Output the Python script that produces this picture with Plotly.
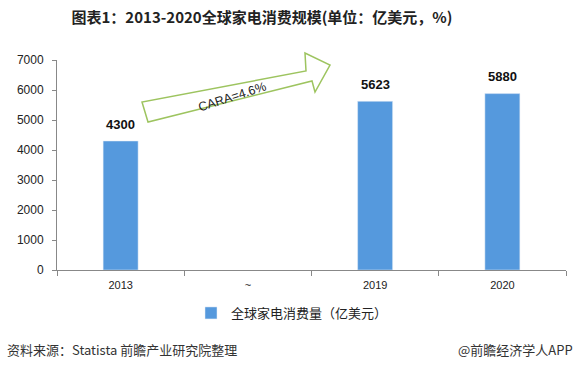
import plotly.graph_objects as go

categories = ["2013", "~", "2019", "2020"]
values = [4300, None, 5623, 5880]
y_ticks = [0, 1000, 2000, 3000, 4000, 5000, 6000, 7000]
series_name = "全球家电消费量（亿美元）"
title_text = "图表1：2013-2020全球家电消费规模(单位：亿美元，%)"
cagr_text = "CARA=4.6%"
source_text = "资料来源：Statista 前瞻产业研究院整理"
brand_text = "@前瞻经济学人APP"

W, H = 577, 370
L, R, T, B = 57, 11, 60, 100
PW, PH = W - L - R, H - T - B

def px(x):
    return (x - L) / PW

def py(y):
    return (H - B - y) / PH

BAR = "#5599DD"
CJK = "Noto Sans CJK SC"

fig = go.Figure()
fig.add_trace(go.Bar(
    x=categories, y=values, name=series_name, marker_color=BAR,
    width=0.275, showlegend=True,
))

for i, v in enumerate(values):
    if v is not None:
        fig.add_annotation(x=i, y=v, xref="x", yref="y", text="<b>%d</b>" % v,
                           showarrow=False, yshift=17,
                           font=dict(size=13, color="#111", family="Liberation Sans"))

# growth arrow (pixel coordinates -> paper)
pts = [(148, 122), (142, 102), (306, 71), (305, 53), (330, 65), (315, 92), (312, 81)]
path = "M " + " L ".join("%f,%f" % (px(a), py(b)) for a, b in pts) + " Z"
fig.add_shape(type="path", path=path, xref="paper", yref="paper",
              line=dict(color="#9DC45F", width=1.5), fillcolor="white", layer="above")
fig.add_annotation(x=px(232), y=py(97), xref="paper", yref="paper", text=cagr_text,
                   showarrow=False, textangle=-18, xanchor="center", yanchor="middle",
                   font=dict(size=12.5, color="#222", family="Liberation Sans"))

fig.add_annotation(x=px(5), y=py(349), xref="paper", yref="paper", text=source_text,
                   showarrow=False, xanchor="left", yanchor="middle",
                   font=dict(size=13, color="#333", family=CJK))
fig.add_annotation(x=px(575), y=py(349), xref="paper", yref="paper", text=brand_text,
                   showarrow=False, xanchor="right", yanchor="middle",
                   font=dict(size=13, color="#333", family=CJK))

fig.update_layout(
    width=W, height=H,
    margin=dict(l=L, r=R, t=T, b=B),
    paper_bgcolor="white", plot_bgcolor="white",
    title=dict(text="<b>" + title_text + "</b>", x=262 / W, xanchor="center",
               y=1 - 18 / H, yanchor="middle",
               font=dict(size=15, color="#222", family=CJK)),
    showlegend=True,
    legend=dict(orientation="h", x=px(292), xanchor="center", y=py(313), yanchor="middle",
                font=dict(size=13, color="#222", family=CJK), itemwidth=30),
    xaxis=dict(type="category", tickson="boundaries", ticks="outside", ticklen=5,
               tickcolor="#888", showline=True, linecolor="#888", linewidth=1,
               showgrid=False, tickfont=dict(size=11, color="#222", family="Liberation Sans"),
               ticklabelstandoff=5, range=[-0.5, 3.5]),
    yaxis=dict(range=[0, 7000], tickvals=y_ticks, ticks="outside", ticklen=4,
               tickcolor="#888", showline=True, linecolor="#888", linewidth=1,
               showgrid=False, zeroline=False, ticklabelstandoff=6,
               tickfont=dict(size=12, color="#222", family="Liberation Sans")),
    bargap=0.7,
)

fig.write_html("out.html", config={"displayModeBar": False},
               post_script="document.body.style.margin='0';")
